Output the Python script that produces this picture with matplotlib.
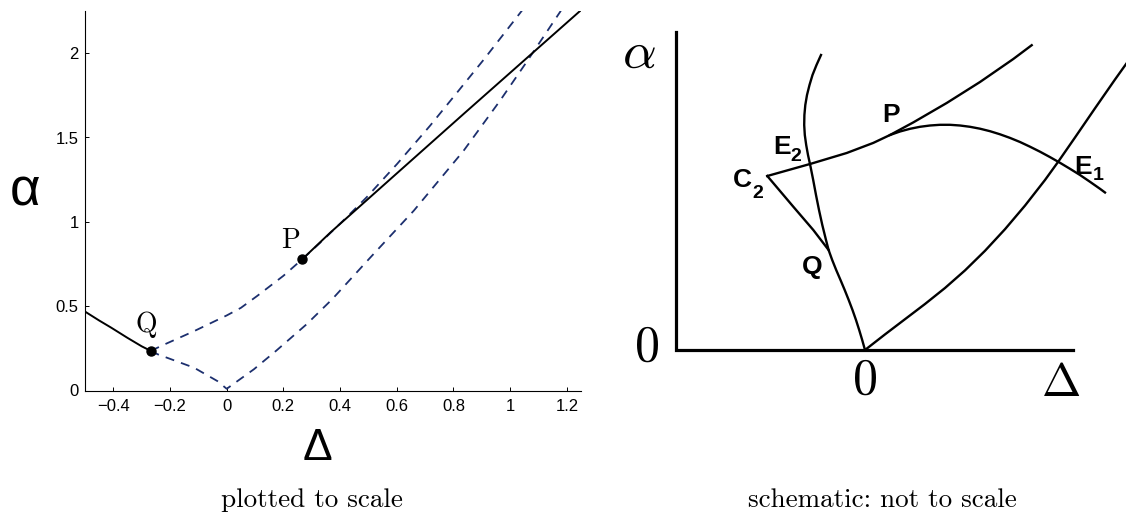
import matplotlib
matplotlib.use("Agg")
import matplotlib.pyplot as plt

# === Data: left panel (plotted to scale) ===
xticks = [-0.4, -0.2, 0, 0.2, 0.4, 0.6, 0.8, 1, 1.2]
xticklabels = ["\u22120.4", "\u22120.2", "0", "0.2", "0.4", "0.6", "0.8", "1", "1.2"]
yticks = [0, 0.5, 1, 1.5, 2]
yticklabels = ["0", "0.5", "1", "1.5", "2"]

# solid branch left of Q
solid_left_x = [-0.5, -0.45, -0.408, -0.35, -0.30, -0.268]
solid_left_y = [0.468, 0.415, 0.373, 0.312, 0.262, 0.235]
# solid branch right of P
solid_right_x = [0.267, 0.366, 0.836, 1.26]
solid_right_y = [0.779, 0.937, 1.640, 2.27]
# upper dashed curve Q -> P -> top
upper_x = [-0.268, -0.221, -0.115, 0.0, 0.05, 0.107, 0.2, 0.267, 0.34, 0.425,
           0.495, 0.601, 0.718, 0.812, 0.906, 1.035, 1.045]
upper_y = [0.235, 0.272, 0.352, 0.445, 0.49, 0.56, 0.68, 0.779, 0.892, 1.03,
           1.148, 1.343, 1.571, 1.765, 1.960, 2.238, 2.26]
# lower dashed curve Q -> 0 -> top
lower_x = [-0.268, -0.244, -0.115, -0.033, 0.0, 0.096, 0.174, 0.282, 0.372,
           0.507, 0.660, 0.836, 0.965, 1.059, 1.176, 1.185]
lower_y = [0.235, 0.215, 0.135, 0.056, 0.010, 0.126, 0.235, 0.393, 0.541,
           0.789, 1.066, 1.422, 1.72, 1.95, 2.244, 2.27]
Q = (-0.268, 0.235)
P = (0.267, 0.779)

# === Data: right panel (schematic, arbitrary units) ===
axis_x0, axis_x1, axis_y1 = -18.9, 20.8, 31.8
curve_e1_x = [0, 2, 4, 6, 8, 10, 12, 14, 16, 18, 19.33, 21, 23, 25, 27, 28.5]
curve_e1_y = [0, 1.56, 3.08, 4.6, 6.2, 7.96, 9.92, 12.08, 14.44, 17.0, 18.84,
              21.25, 24.17, 27.05, 29.85, 31.92]
curve_e2_x = [-4.4, -4.85, -5.25, -5.55, -5.8, -5.97, -6.06, -6.08, -6.02, -5.88,
              -5.7, -5.48, -5.18, -4.9, -4.6, -4.27, -3.9, -3.64, -3.28, -2.88,
              -2.45, -2.03, -1.63, -1.25, -0.9, -0.58, -0.28, 0]
curve_e2_y = [29.5, 28.5, 27.5, 26.5, 25.5, 24.5, 23.5, 22.5, 21.5, 20.5,
              19.5, 18.5, 17.0, 15.5, 14.0, 12.5, 11.0, 10.0, 9.0, 8.0,
              7.0, 6.0, 5.0, 4.0, 3.0, 2.0, 1.0, 0]
c2q_x = [-9.77, -7.17, -5.17, -3.64]
c2q_y = [17.4, 14.33, 12.0, 10.0]
c2p_x = [-9.77, -5.43, -1.83, 0.83, 2.5, 4.83, 8.17, 11.5, 14.83, 16.67]
c2p_y = [17.4, 18.62, 19.7, 20.71, 21.5, 22.76, 24.7, 26.8, 29.1, 30.48]
arc_x = [2.5, 3.5, 4.5, 5.5, 6.5, 7.5, 8.5, 9.5, 10.5, 11.5, 12.5, 13.5,
         14.5, 15.5, 16.5, 17.5, 18.5, 19.5, 20.5, 21.5, 22.5, 23.5, 24.0]
arc_y = [21.5, 21.85, 22.12, 22.32, 22.45, 22.52, 22.52, 22.45, 22.32, 22.13, 21.88, 21.57,
         21.21, 20.80, 20.33, 19.83, 19.29, 18.72, 18.12, 17.5, 16.82, 16.12, 15.75]

dash_color = "#1c2f6e"

fig = plt.figure(figsize=(11.26, 5.13), dpi=100)

# --- left panel ---
ax = fig.add_axes([85 / 1126, 122.5 / 513, 496 / 1126, 379.5 / 513])
ax.plot(upper_x, upper_y, color=dash_color, lw=1.3, dashes=(5, 4))
ax.plot(lower_x, lower_y, color=dash_color, lw=1.3, dashes=(5, 4))
ax.plot(solid_left_x, solid_left_y, color="k", lw=1.4)
ax.plot(solid_right_x, solid_right_y, color="k", lw=1.4)
ax.plot(*Q, "o", color="k", ms=6.5, zorder=5)
ax.plot(*P, "o", color="k", ms=6.5, zorder=5)
ax.text(-0.285, 0.39, "Q", fontsize=20, family="cmr10", ha="center", va="center")
ax.text(0.224, 0.89, "P", fontsize=20, family="cmr10", ha="center", va="center")

ax.set_xlim(-0.5, 1.25)
ax.set_ylim(0, 2.25)
ax.set_xticks(xticks)
ax.set_xticklabels(xticklabels, family="Liberation Sans", fontsize=12)
ax.set_yticks(yticks)
ax.set_yticklabels(yticklabels, family="Liberation Sans", fontsize=12)
ax.tick_params(direction="in", length=3.2, width=0.7)
ax.tick_params(axis="x", pad=6)
ax.tick_params(axis="y", pad=4.5)
for side in ["top", "right"]:
    ax.spines[side].set_visible(False)
for side in ["left", "bottom"]:
    ax.spines[side].set_linewidth(0.8)

fig.text(25 / 1126, 1 - 192 / 513, "\u03b1", fontsize=38, family="Liberation Sans",
         ha="center", va="center")
fig.text(317 / 1126, 1 - 449 / 513, "\u0394", fontsize=32, family="Liberation Sans",
         ha="center", va="center")
fig.text(312 / 1126, 6 / 513, "plotted to scale", fontsize=19.5, family="cmr10",
         ha="center", va="baseline")

# --- right panel (schematic) ---
ax2 = fig.add_axes([600 / 1126, 0, 526 / 1126, 1])
ax2.set_xlim(-26.5, 26.1)
ax2.set_ylim(-16.3, 35.0)
ax2.axis("off")

ax2.plot([axis_x0, axis_x0, axis_x1], [axis_y1, 0, 0], color="k", lw=2.3,
         solid_joinstyle="miter")
for cx, cy in [(curve_e1_x, curve_e1_y), (curve_e2_x, curve_e2_y),
               (c2q_x, c2q_y), (c2p_x, c2p_y), (arc_x, arc_y)]:
    ax2.plot(cx, cy, color="k", lw=1.7, solid_joinstyle="round")

lab = dict(family="Liberation Sans", fontweight="bold", ha="center", va="center")
ax2.text(2.6, 23.5, "P", fontsize=19, **lab)
ax2.text(-8.33, 20.3, "E", fontsize=19, **lab)
ax2.text(-6.9, 19.3, "2", fontsize=14, **lab)
ax2.text(-12.3, 17.0, "C", fontsize=19, **lab)
ax2.text(-10.7, 15.6, "2", fontsize=14, **lab)
ax2.text(-5.33, 8.3, "Q", fontsize=19, **lab)
ax2.text(21.8, 18.3, "E", fontsize=19, **lab)
ax2.text(23.3, 17.4, "1", fontsize=14, **lab)

ax2.text(-22.6, 29.7, r"$\alpha$", fontsize=38, math_fontfamily="cm", ha="center", va="center")
ax2.text(-21.9, 0.3, r"$0$", fontsize=36, math_fontfamily="cm", ha="center", va="center")
ax2.text(0, -3.0, r"$0$", fontsize=36, math_fontfamily="cm", ha="center", va="center")
ax2.text(19.6, -3.3, r"$\Delta$", fontsize=34, math_fontfamily="cm", ha="center", va="center")

fig.text(882 / 1126, 6 / 513, "schematic: not to scale", fontsize=19.5, family="cmr10",
         ha="center", va="baseline")

fig.savefig("out.png", dpi=100)
